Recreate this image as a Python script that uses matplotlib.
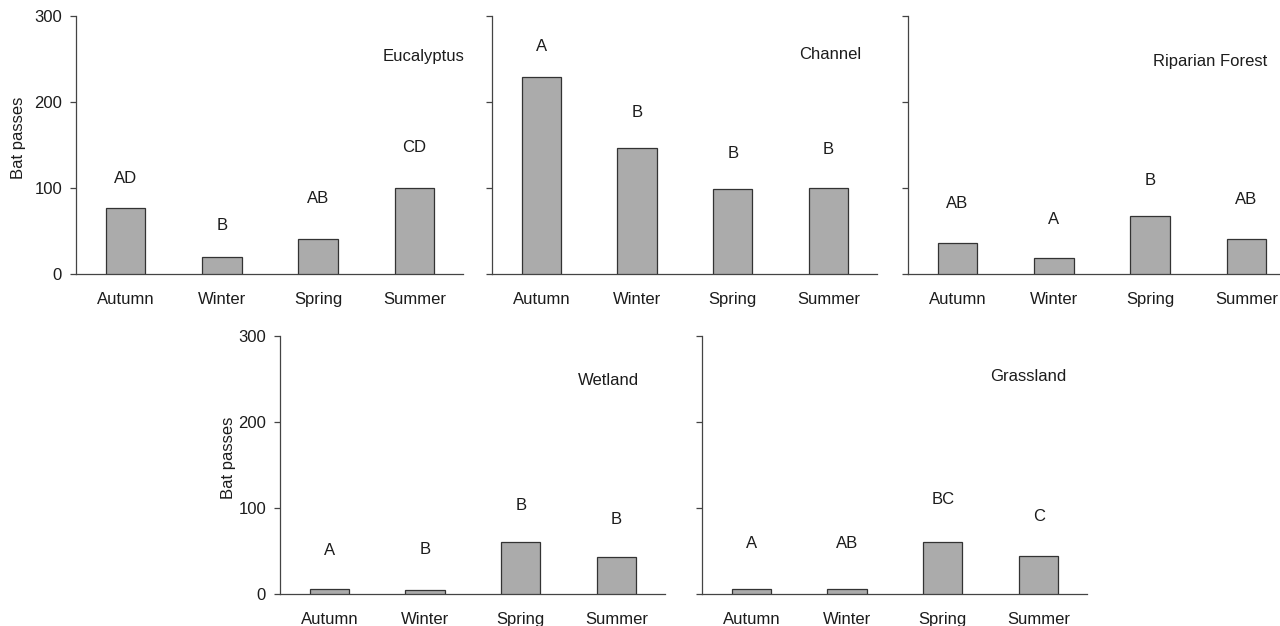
import matplotlib
matplotlib.use("Agg")
import matplotlib.pyplot as plt

plt.rcParams['font.family'] = ['Liberation Sans', 'DejaVu Sans']
plt.rcParams['font.size'] = 12

seasons = ['Autumn', 'Winter', 'Spring', 'Summer']

habitats = ['Eucalyptus', 'Channel', 'Riparian Forest', 'Wetland', 'Grassland']

eucalyptus = [76, 19, 40, 100]
channel = [229, 146, 98, 100]
riparian = [36, 18, 67, 40]
wetland = [5, 4, 60, 43]
grassland = [5, 5.5, 60, 44]

# significance letters and the height they are written at
eucalyptus_letters = ['AD', 'B', 'AB', 'CD']
eucalyptus_letter_y = [110, 56, 87, 147]
channel_letters = ['A', 'B', 'B', 'B']
channel_letter_y = [264, 187, 140, 144]
riparian_letters = ['AB', 'A', 'B', 'AB']
riparian_letter_y = [81, 63, 108, 86]
wetland_letters = ['A', 'B', 'B', 'B']
wetland_letter_y = [50, 51, 102, 86]
grassland_letters = ['A', 'AB', 'BC', 'C']
grassland_letter_y = [58, 58, 109, 90]

values = [eucalyptus, channel, riparian, wetland, grassland]
letters = [eucalyptus_letters, channel_letters, riparian_letters,
           wetland_letters, grassland_letters]
letter_y = [eucalyptus_letter_y, channel_letter_y, riparian_letter_y,
            wetland_letter_y, grassland_letter_y]

W, H = 1280, 626
# panel boxes in pixels: left, right, top, bottom
boxes = [(76, 463, 15.7, 273.5),
         (492, 877, 15.7, 273.5),
         (908, 1295, 15.7, 273.5),
         (280, 665, 335.7, 593.7),
         (702, 1087, 335.7, 593.7)]
name_pos = [(3.10, 253), (3.02, 255), (2.62, 247), (2.92, 248), (2.89, 252)]
ylabel_x = [-0.129, None, None, -0.114, None]

fg = '#1c1c1c'
fig = plt.figure(figsize=(W / 100, H / 100), dpi=100)

for i in range(5):
    l, r, t, b = boxes[i]
    ax = fig.add_axes([l / W, (H - b) / H, (r - l) / W, (b - t) / H])
    x = range(len(seasons))
    ax.bar(x, values[i], width=0.41, color='#ababab', edgecolor='#333333',
           linewidth=0.9, zorder=3)
    for k in x:
        ax.text(k, letter_y[i][k], letters[i][k], ha='center', va='center',
                color=fg, fontsize=12)
    ax.text(name_pos[i][0], name_pos[i][1], habitats[i], ha='center',
            va='center', color=fg, fontsize=12)

    ax.set_xlim(-0.515, 3.505)
    ax.set_ylim(0, 300)
    ax.set_xticks(list(x))
    ax.set_xticklabels(seasons, color=fg)
    ax.tick_params(axis='x', length=0, pad=13.5)
    ax.set_yticks([0, 100, 200, 300])
    ax.tick_params(axis='y', direction='out', length=4, width=0.9,
                   color='#444444', pad=6, labelcolor=fg)
    if ylabel_x[i] is not None:
        ax.set_ylabel('Bat passes', color=fg, fontsize=12)
        ax.yaxis.set_label_coords(ylabel_x[i], 0.527)
    else:
        ax.set_yticklabels([])
    for s in ['top', 'right']:
        ax.spines[s].set_visible(False)
    for s in ['left', 'bottom']:
        ax.spines[s].set_color('#444444')
        ax.spines[s].set_linewidth(0.9)

fig.savefig('out.png', dpi=100)
